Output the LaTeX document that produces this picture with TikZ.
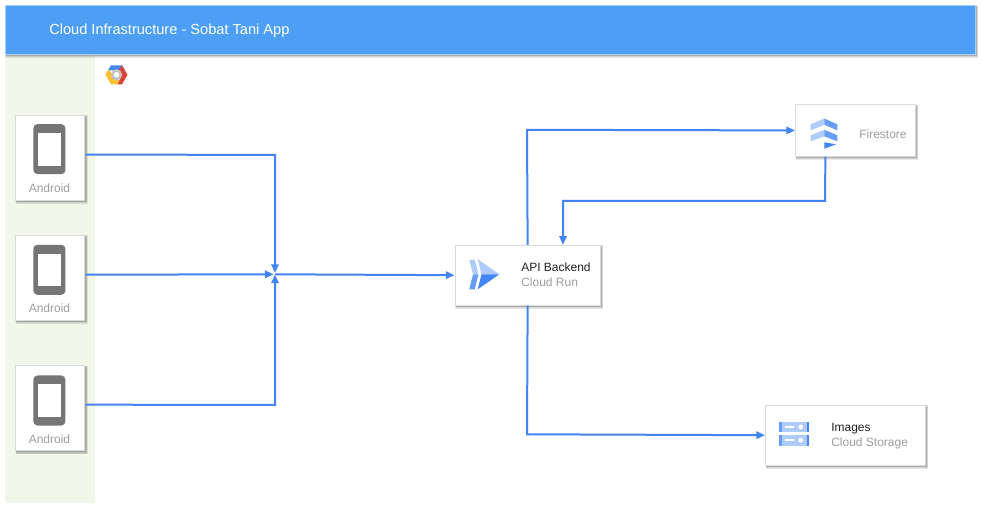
\documentclass[tikz,border=0pt]{standalone}
\usepackage{fontspec}
\setmainfont{Liberation Sans}
\usetikzlibrary{arrows.meta}
\definecolor{hdr}{HTML}{4D9FF5}
\definecolor{hdrb}{HTML}{A9D0FA}
\definecolor{band}{HTML}{F1F8E9}
\definecolor{edge}{HTML}{DADADA}
\definecolor{wire}{HTML}{4284F3}
\definecolor{lab}{HTML}{9E9E9E}
\definecolor{ink}{HTML}{222222}
\definecolor{phone}{HTML}{757575}
\definecolor{gdark}{HTML}{4285F4}
\definecolor{gmid}{HTML}{669DF6}
\definecolor{glight}{HTML}{AECBFA}
\definecolor{gred}{HTML}{DB4437}
\definecolor{gyel}{HTML}{FBC02D}
\definecolor{ggrey}{HTML}{C4C4C4}
\newcommand{\softshadow}[4]{%
  \foreach \k in {0,1,2,3}{\fill[black,opacity=0.09] (#1+\k*0.4+0.6,#2+\k*0.4+0.6) rectangle (#3+3.4-\k*0.6,#4+3.8-\k*0.6);}%
}
\newcommand{\phoneicon}[1]{%
  \fill[phone,rounded corners=3pt] (33.4,#1) rectangle (65.4,#1+50);
  \fill[white] (37.8,#1+9) rectangle (61.3,#1+41.5);
}
\tikzset{
  x=0.75pt,y=-0.75pt,
  card/.style={draw=edge,line width=0.6pt,fill=white,inner sep=0pt,anchor=north west},
  wirepath/.style={draw=wire,line width=1.5pt,line join=miter},
  tip/.style={-{Triangle[length=6.5pt,width=5.5pt]}},
  caption/.style={text=lab,font=\fontsize{9}{11}\selectfont,inner sep=0pt,anchor=base},
  titletext/.style={text=ink,font=\fontsize{9}{11}\selectfont,inner sep=0pt,anchor=base west},
  subtext/.style={text=lab,font=\fontsize{9}{11}\selectfont,inner sep=0pt,anchor=base west},
}
\begin{document}
\begin{tikzpicture}
\useasboundingbox (0,0.2) rectangle (981,505.2);
\fill[white] (0,0) rectangle (982,506);
% band
\fill[band] (4.5,54) rectangle (94.5,503.5);
% header
\softshadow{4.5}{5}{975}{54}
\node[draw=hdrb,line width=0.6pt,fill=hdr,inner sep=0pt,anchor=north west,minimum width=727.9pt,minimum height=36.75pt] (header) at (4.5,5) {};
\node[text=white,font=\fontsize{10.95}{13}\selectfont,inner sep=0pt,anchor=base west] (htitle) at (49,34.5) {Cloud Infrastructure - Sobat Tani App};
% logo
\begin{scope}[shift={(116.5,75)}]
  \fill[gdark] (-5.5,-9.5) -- (5.5,-9.5) -- (8.5,-4.5) -- (3.5,-4.5) -- (-3.5,-4.5) -- (-8.5,-4.5) -- cycle;
  \fill[gred] (5.5,-9.5) -- (11,0) -- (5.5,9.5) -- (1,9.5) -- (5.5,0) -- (2.5,-5) -- cycle;
  \fill[gyel] (-11,0) -- (-8,-5.5) -- (-4.5,-1) -- (-1,5) -- (2.5,5) -- (1,9.5) -- (-5.5,9.5) -- cycle;
  \fill[ggrey] (0,0) circle (5.6);
  \fill[white] (0,0) circle (2.7);
\end{scope}
% cards
\softshadow{15}{115}{84.5}{200}
\softshadow{15}{235}{84.5}{320}
\softshadow{15}{365.5}{84.5}{450.5}
\softshadow{454.5}{245}{600}{305}
\softshadow{795}{104.5}{915}{156}
\softshadow{765}{405}{925}{465}
\node[card,minimum width=52.1pt,minimum height=63.75pt] (a1) at (15,115) {};
\node[card,minimum width=52.1pt,minimum height=63.75pt] (a2) at (15,235) {};
\node[card,minimum width=52.1pt,minimum height=63.75pt] (a3) at (15,365.5) {};
\node[card,minimum width=109.1pt,minimum height=45pt] (run) at (454.5,245) {};
\node[card,minimum width=90pt,minimum height=38.6pt] (fire) at (795,104.5) {};
\node[card,minimum width=120pt,minimum height=45pt] (gcs) at (765,405) {};
% phones
\phoneicon{124.3}
\phoneicon{245}
\phoneicon{375.7}
\node[caption] (t1) at (49.5,192.5) {Android};
\node[caption] (t2) at (49.5,312.5) {Android};
\node[caption] (t3) at (49.5,443.5) {Android};
% cloud run icon
\fill[glight] (469.3,260) -- (474.7,260) -- (478.5,274.5) -- (473,274.5) -- cycle;
\fill[gmid] (473,274.5) -- (478.5,274.5) -- (474.7,289.5) -- (469.3,289.5) -- cycle;
\fill[glight] (477.8,259.5) -- (499.3,274.5) -- (481.5,274.5) -- cycle;
\fill[gdark] (481.5,274.5) -- (499.3,274.5) -- (477.8,289.5) -- cycle;
\node[titletext] (t4) at (521,271.5) {API Backend};
\node[subtext] (t5) at (521,286.5) {Cloud Run};
% firestore icon
\fill[glight] (810.7,124.5) -- (824.3,118.7) -- (824.3,125) -- (810.7,130.5) -- cycle;
\fill[gmid] (824.3,118.7) -- (837.3,124.5) -- (837.3,130.5) -- (824.3,125) -- cycle;
\fill[glight] (810.7,135.5) -- (824.3,130) -- (824.3,136.5) -- (810.7,141.5) -- cycle;
\fill[gmid] (824.3,130) -- (837.3,135.5) -- (837.3,141.5) -- (824.3,136.5) -- cycle;
\fill[gdark] (824.3,142.5) -- (836,144.5) -- (824.3,149) -- cycle;
\node[subtext] (t6) at (859,138.5) {Firestore};
% storage icon
\foreach \yy in {421.7,435}{
  \fill[glight] (779,\yy) rectangle (809,\yy+10.8);
  \fill[gmid] (779,\yy) rectangle (782,\yy+10.8);
  \fill[gdark] (806.5,\yy) rectangle (809,\yy+10.8);
  \fill[white] (785,\yy+4.5) rectangle (794,\yy+6.3);
  \fill[white] (800.7,\yy+5.4) circle (2.4);
}
\node[titletext] (t7) at (831,431.5) {Images};
\node[subtext] (t8) at (831,446.5) {Cloud Storage};
% connectors
\coordinate (hub) at (275,274.5);
\draw[wirepath,tip] ([yshift=2.25pt]a1.east) -- (275,155) -- ([yshift=1pt]hub);
\draw[wirepath,tip] ([yshift=2.25pt]a2.east) -- ([xshift=-1pt]hub);
\draw[wirepath,tip] ([yshift=2.6pt]a3.east) -- (275,405) -- ([yshift=-0.2pt]hub);
\draw[wirepath,tip] (hub) -- (run.west);
\draw[wirepath,tip] (run.north) -- (527,130) -- (fire.west);
\draw[wirepath,tip] ([xshift=-22.5pt]fire.south) -- (825,201) -- (563,201) -- (563,245);
\draw[wirepath,tip] (run.south) -- (527,434.5) -- (gcs.west);
\end{tikzpicture}
\end{document}
